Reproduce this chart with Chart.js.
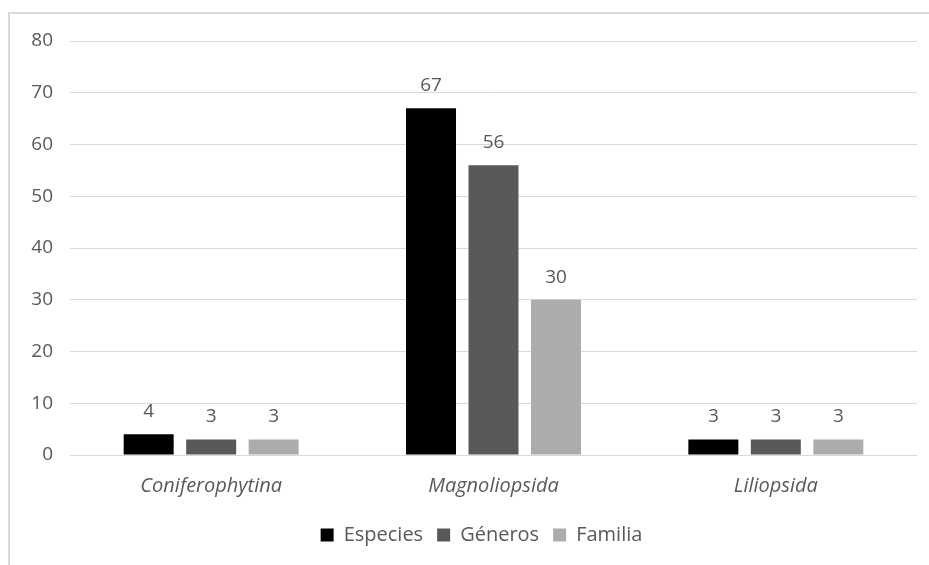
<!DOCTYPE html>
<html>
<head>
<meta charset="utf-8">
<script src="https://cdn.jsdelivr.net/npm/chart.js@4"></script>
<style>
  html, body { margin: 0; padding: 0; background: #fff; }
  #wrap { position: relative; width: 929px; height: 565px; overflow: hidden; }
  #frame { position: absolute; left: 8px; top: 12px; width: 940px; height: 600px;
           border-left: 2px solid #d9d9d9; border-top: 2px solid #d9d9d9; }
  canvas { position: absolute; left: 0; top: 0; }
</style>
</head>
<body>
<div id="wrap">
  <div id="frame"></div>
  <canvas id="c" width="929" height="565"></canvas>
</div>
<script>
const categories = ['Coniferophytina', 'Magnoliopsida', 'Liliopsida'];
const especies = [4, 67, 3];
const generos = [3, 56, 3];
const familia = [3, 30, 3];
const yTicks = [0, 10, 20, 30, 40, 50, 60, 70, 80];

const textColor = '#595959';
const fontFamily = "'Open Sans', 'DejaVu Sans', sans-serif";
const fontSize = 20;

// Writes each bar's value just above it
const valueLabels = {
  id: 'valueLabels',
  afterDatasetsDraw(chart) {
    const ctx = chart.ctx;
    ctx.save();
    ctx.fillStyle = textColor;
    ctx.font = '19px ' + fontFamily;
    ctx.textAlign = 'center';
    ctx.textBaseline = 'alphabetic';
    chart.data.datasets.forEach((ds, i) => {
      chart.getDatasetMeta(i).data.forEach((bar, j) => {
        ctx.fillText(String(ds.data[j]), bar.x, bar.y - 17);
      });
    });
    ctx.restore();
  }
};

// Centres the legend a little right of the canvas middle, under the plot
const legendShift = {
  id: 'legendShift',
  afterLayout(chart) {
    const lg = chart.legend;
    if (lg) { lg.left += 46; }
  }
};

new Chart(document.getElementById('c'), {
  type: 'bar',
  data: {
    labels: categories,
    datasets: [
      { label: 'Especies', data: especies, backgroundColor: '#000000' },
      { label: 'Géneros', data: generos, backgroundColor: '#595959' },
      { label: 'Familia', data: familia, backgroundColor: '#aeabab' }
    ]
  },
  options: {
    responsive: false,
    animation: false,
    layout: { padding: { top: 41, right: 12, bottom: 10, left: 0 } },
    datasets: { bar: { categoryPercentage: 0.664, barPercentage: 0.8 } },
    scales: {
      x: {
        grid: { display: false },
        border: { display: false },
        ticks: { color: textColor, font: { family: fontFamily, size: fontSize, style: 'italic' }, padding: 11 },
        afterFit(s) { s.height = 56; }
      },
      y: {
        min: 0, max: 80,
        afterBuildTicks(s) { s.ticks = yTicks.map(v => ({ value: v })); },
        grid: { color: '#d9d9d9', lineWidth: 1, drawTicks: false },
        border: { display: false },
        ticks: { color: textColor, font: { family: fontFamily, size: 19 }, padding: 17 },
        afterFit(s) { s.width = 70; }
      }
    },
    plugins: {
      legend: {
        position: 'bottom',
        labels: { color: textColor, font: { family: fontFamily, size: fontSize }, boxWidth: 13, boxHeight: 13, padding: 14 }
      },
      tooltip: { enabled: false }
    }
  },
  plugins: [legendShift, valueLabels]
});
</script>
</body>
</html>
